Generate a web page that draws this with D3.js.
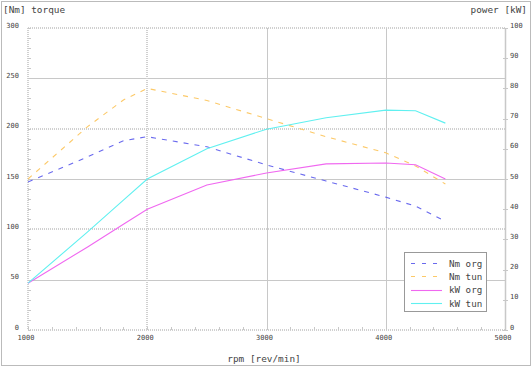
<!DOCTYPE html>
<html><head><meta charset="utf-8">
<script src="https://cdn.jsdelivr.net/npm/d3@7/dist/d3.min.js"></script>
<style>
body{margin:0;background:#fff;}
svg{display:block;}
text{font-family:"DejaVu Sans Mono",monospace;fill:#444;}
</style></head>
<body>
<svg id="c" width="532" height="367"></svg>
<script>
const rpm      = [1000, 1500, 1800, 2000, 2500, 3000, 3500, 4000, 4250, 4500];
const nmOrg    = [147, 172, 188, 192, 182, 164, 148, 132, 123, 108];
const nmTun    = [150, 202, 228.5, 240, 228, 210, 192, 176, 163, 145];
const kwOrg    = [15.5, 27.5, 35, 40, 48, 52, 55, 55.3, 54.7, 50];
const kwTun    = [15.5, 32.5, 43, 50, 60, 66.5, 70.3, 72.8, 72.6, 68.5];
const xTicks   = [1000, 2000, 3000, 4000, 5000];
const tTicks   = [0, 50, 100, 150, 200, 250, 300];
const pTicks   = [0, 10, 20, 30, 40, 50, 60, 70, 80, 90, 100];
const seriesNames = ["Nm org", "Nm tun", "kW org", "kW tun"];
const colors   = ["#6a6aee", "#fcc968", "#f068f0", "#60f0f0"];

const svg = d3.select("#c");
const x = d3.scaleLinear().domain([1000, 5000]).range([28, 505]);
const yT = d3.scaleLinear().domain([0, 300]).range([330, 28]);
const yP = d3.scaleLinear().domain([0, 100]).range([330, 28]);

// outer frame
svg.append("rect").attr("x", 1.5).attr("y", 1.5).attr("width", 529).attr("height", 364)
  .attr("fill", "none").attr("stroke", "#bbb");

const grid = svg.append("g");
const dottedH = [0, 100, 200, 300], dottedV = [1000, 2000];
tTicks.forEach(v => {
  const dot = dottedH.includes(v);
  grid.append("line").attr("x1", x(1000)).attr("x2", x(5000))
    .attr("y1", Math.round(yT(v)) + (dot ? 0 : 0.5)).attr("y2", Math.round(yT(v)) + (dot ? 0 : 0.5))
    .attr("stroke", dot ? "#d0d0d0" : "#c8c8c8").attr("stroke-width", dot ? 2 : 1)
    .attr("stroke-dasharray", dot ? "1,1" : null);
});
xTicks.forEach(v => {
  const dot = dottedV.includes(v);
  grid.append("line").attr("y1", yT(300)).attr("y2", yT(0))
    .attr("x1", Math.round(x(v)) + (dot ? 0 : 0.5)).attr("x2", Math.round(x(v)) + (dot ? 0 : 0.5))
    .attr("stroke", dot ? "#d0d0d0" : "#c8c8c8").attr("stroke-width", v === 5000 ? 1.5 : (dot ? 2 : 1))
    .attr("stroke-dasharray", dot ? "1,1" : null);
});
// minor ticks
d3.range(1000, 5001, 200).forEach(v => {
  grid.append("line").attr("x1", Math.round(x(v)) + 0.5).attr("x2", Math.round(x(v)) + 0.5)
    .attr("y1", yT(0)).attr("y2", yT(0) - 3).attr("stroke", "#c8c8c8");
});
d3.range(0, 301, 10).forEach(v => {
  grid.append("line").attr("x1", x(1000)).attr("x2", x(1000) + 3)
    .attr("y1", Math.round(yT(v)) + 0.5).attr("y2", Math.round(yT(v)) + 0.5).attr("stroke", "#c8c8c8");
});
pTicks.forEach(v => {
  grid.append("line").attr("x1", x(5000) - 2).attr("x2", x(5000) + 3)
    .attr("y1", Math.round(yP(v)) + 0.5).attr("y2", Math.round(yP(v)) + 0.5).attr("stroke", "#c8c8c8");
});

// axes labels via d3 axes
const axL = svg.append("g").attr("transform", "translate(19,0)")
  .call(d3.axisLeft(yT).tickValues(tTicks).tickSize(0).tickPadding(0));
axL.select(".domain").remove();
axL.selectAll("text").attr("dy", "-1").attr("font-size", 7).attr("font-family", "DejaVu Sans Mono").attr("fill", "#555");

const axR = svg.append("g").attr("transform", "translate(510,0)")
  .call(d3.axisRight(yP).tickValues(pTicks).tickSize(0).tickPadding(0));
axR.select(".domain").remove();
axR.selectAll("text").attr("dy", "-1").attr("font-size", 7).attr("font-family", "DejaVu Sans Mono").attr("fill", "#555");

const axB = svg.append("g").attr("transform", "translate(-2.5,334)")
  .call(d3.axisBottom(x).tickValues(xTicks).tickSize(0).tickPadding(0).tickFormat(d3.format("d")));
axB.select(".domain").remove();
axB.selectAll("text").attr("dy", "6").attr("font-size", 7).attr("font-family", "DejaVu Sans Mono").attr("fill", "#555");

// titles
svg.append("text").attr("x", 3).attr("y", 13).attr("font-size", 9.4).text("[Nm] torque");
svg.append("text").attr("x", 527).attr("y", 13).attr("font-size", 9.4).attr("text-anchor", "end").text("power [kW]");
svg.append("text").attr("x", 264).attr("y", 362).attr("font-size", 9.4).attr("text-anchor", "middle").text("rpm [rev/min]");

// series
const series = [
  {vals: nmOrg, y: yT, dash: "5,6"},
  {vals: nmTun, y: yT, dash: "5,6"},
  {vals: kwOrg, y: yP, dash: null},
  {vals: kwTun, y: yP, dash: null}
];
series.forEach((s, i) => {
  const line = d3.line().x((d, j) => x(rpm[j])).y(d => s.y(d));
  svg.append("path").datum(s.vals).attr("d", line).attr("fill", "none")
    .attr("stroke", colors[i]).attr("stroke-width", 1.1)
    .attr("stroke-dasharray", s.dash);
});

// legend
const lg = svg.append("g");
lg.append("rect").attr("x", 404.5).attr("y", 252.5).attr("width", 82).attr("height", 59)
  .attr("fill", "#fff").attr("stroke", "#999");
seriesNames.forEach((n, i) => {
  const yy = 263 + i * 13.4;
  lg.append("line").attr("x1", 411).attr("x2", 442).attr("y1", Math.round(yy) + 0.5).attr("y2", Math.round(yy) + 0.5)
    .attr("stroke", colors[i]).attr("stroke-width", 1.1)
    .attr("stroke-dasharray", i < 2 ? "4,7" : null);
  lg.append("text").attr("x", 449).attr("y", yy + 3.5).attr("font-size", 9.2).text(n);
});
</script>
</body></html>
